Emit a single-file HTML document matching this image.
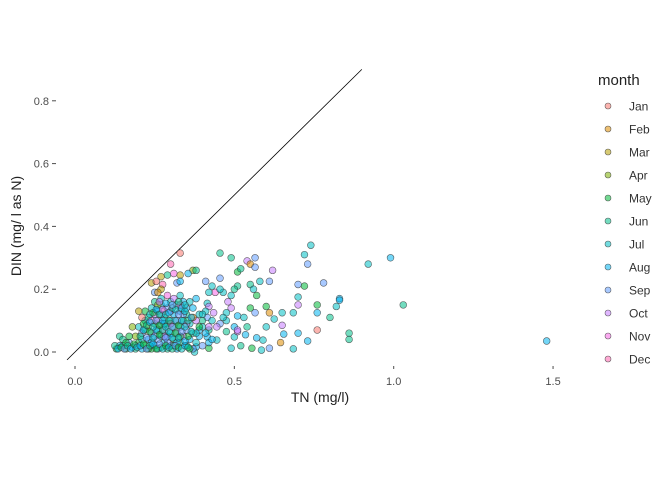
<!DOCTYPE html>
<html><head><meta charset="utf-8"><style>
body{margin:0;background:#fff;}
svg{display:block;font-family:"Liberation Sans",sans-serif;}
</style></head><body>
<svg id="chart" width="672" height="480">
<g id="axes"></g><g id="marks"></g><g id="legend"></g>
</svg>
<script>
const months=["Jan","Feb","Mar","Apr","May","Jun","Jul","Aug","Sep","Oct","Nov","Dec"];
const colors=["#F8766D","#DE8C00","#B79F00","#7CAE00","#00BA38","#00C08B","#00BFC4","#00B4F0","#619CFF","#C77CFF","#F564E3","#FF64B0"];
const xTicks=[0,0.5,1.0,1.5];
const xTickLabels=["0.0","0.5","1.0","1.5"];
const yTicks=[0,0.2,0.4,0.6,0.8];
const yTickLabels=["0.0","0.2","0.4","0.6","0.8"];
const refLine=[-0.025,0.9];
const obs=[
[1.48,0.035,7],[0.99,0.30,7],[0.92,0.28,6],[1.03,0.15,5],
[0.74,0.34,6],[0.72,0.31,6],[0.73,0.28,8],[0.455,0.315,5],[0.49,0.30,5],[0.565,0.30,8],[0.54,0.29,9],[0.55,0.28,1],[0.565,0.27,8],[0.51,0.255,4],[0.52,0.265,5],[0.62,0.26,9],
[0.33,0.315,0],[0.30,0.28,11],[0.37,0.26,3],[0.38,0.26,5],[0.355,0.25,7],[0.31,0.25,10],[0.33,0.245,2],[0.29,0.245,5],[0.27,0.24,2],[0.24,0.22,2],[0.255,0.225,0],[0.275,0.215,11],[0.27,0.20,2],[0.32,0.22,8],[0.33,0.225,7],[0.25,0.19,8],
[0.455,0.235,8],[0.41,0.225,8],[0.43,0.21,6],[0.51,0.21,5],[0.55,0.215,5],[0.58,0.225,6],[0.61,0.225,8],[0.56,0.20,6],[0.57,0.18,4],[0.70,0.215,8],[0.72,0.21,4],[0.78,0.22,8],[0.70,0.175,6],[0.76,0.15,4],[0.83,0.17,7],[0.83,0.165,7],[0.82,0.145,6],[0.70,0.15,9],[0.685,0.125,6],[0.76,0.125,7],[0.80,0.11,5],[0.65,0.125,6],[0.61,0.125,1],[0.60,0.145,4],[0.565,0.125,8],[0.55,0.14,4],[0.53,0.11,6],[0.625,0.105,6],[0.65,0.085,9],[0.60,0.08,6],[0.54,0.08,5],[0.76,0.07,0],[0.70,0.06,7],[0.655,0.057,7],[0.86,0.06,5],[0.86,0.04,5],[0.73,0.035,7],[0.685,0.01,6],[0.645,0.03,1],[0.61,0.012,8],[0.585,0.006,6],[0.59,0.038,6],[0.57,0.045,7],[0.555,0.012,4],[0.52,0.02,5],[0.49,0.012,6],[0.50,0.048,6],[0.475,0.065,5],[0.51,0.065,9],[0.535,0.055,7],[0.445,0.038,6],[0.42,0.012,4],[0.38,0.016,7],[0.375,0.0,6],[0.455,0.09,8],[0.475,0.10,6],[0.50,0.08,7],[0.475,0.125,6],[0.465,0.11,6],[0.49,0.14,9],[0.51,0.115,7],[0.48,0.16,9],[0.49,0.18,6],[0.465,0.19,6],[0.44,0.19,10],[0.455,0.20,6],[0.50,0.20,5],[0.42,0.19,6],[0.415,0.155,6],[0.42,0.145,9],[0.435,0.125,9],[0.415,0.11,8],[0.445,0.08,9],[0.42,0.07,5],[0.40,0.10,5],[0.39,0.07,7],[0.415,0.048,7],[0.51,0.07,9],
[0.13,0.01,4],[0.14,0.05,5],[0.15,0.02,7],[0.16,0.01,4],[0.17,0.03,8],[0.18,0.015,7],[0.19,0.05,3],[0.19,0.01,5],[0.20,0.03,4],[0.20,0.08,6],[0.21,0.01,7],[0.21,0.06,8],[0.22,0.02,5],[0.22,0.10,6],[0.22,0.13,4],[0.23,0.04,7],[0.23,0.08,2],[0.23,0.11,5],[0.24,0.01,4],[0.24,0.06,8],[0.24,0.14,6],[0.25,0.02,7],[0.25,0.09,4],[0.25,0.12,9],[0.25,0.16,5],[0.26,0.04,8],[0.26,0.07,5],[0.26,0.10,11],[0.26,0.13,7],[0.27,0.015,4],[0.27,0.05,6],[0.27,0.09,8],[0.27,0.15,6],[0.28,0.03,7],[0.28,0.07,9],[0.28,0.11,5],[0.28,0.13,0],[0.29,0.01,5],[0.29,0.05,7],[0.29,0.09,4],[0.29,0.14,8],[0.30,0.02,8],[0.30,0.06,6],[0.30,0.10,7],[0.30,0.16,6],[0.31,0.04,4],[0.31,0.08,5],[0.31,0.12,7],[0.32,0.01,7],[0.32,0.06,8],[0.32,0.10,9],[0.32,0.15,6],[0.33,0.03,5],[0.33,0.08,7],[0.33,0.13,6],[0.34,0.05,9],[0.34,0.10,4],[0.34,0.16,7],[0.35,0.02,6],[0.35,0.07,8],[0.35,0.12,5],[0.36,0.04,7],[0.36,0.09,6],[0.37,0.01,8],[0.37,0.06,5],[0.37,0.14,7],[0.38,0.03,6],[0.38,0.10,9],[0.39,0.05,7],[0.39,0.12,6],[0.40,0.02,8],[0.40,0.08,6],[0.41,0.06,7],[0.41,0.13,6],[0.42,0.03,7],[0.43,0.10,6],[0.36,0.16,6],[0.38,0.17,7],[0.31,0.17,9],[0.33,0.18,6],[0.29,0.18,10],[0.26,0.19,1],[0.27,0.17,6],[0.20,0.13,2],[0.18,0.08,3],[0.17,0.05,4],[0.15,0.04,5],[0.21,0.11,0],[0.24,0.10,10],[0.28,0.05,9],[0.30,0.13,9],[0.34,0.12,8],[0.32,0.03,7],[0.26,0.01,7],[0.23,0.01,4],[0.19,0.02,8],[0.35,0.14,7],[0.39,0.08,4],[0.37,0.11,1],[0.30,0.09,11],[0.27,0.12,8],[0.25,0.05,8],[0.22,0.07,4],[0.28,0.09,6],[0.33,0.05,4],[0.31,0.02,5],[0.36,0.01,4],[0.29,0.03,8],[0.24,0.03,7],[0.21,0.04,6],[0.16,0.03,4],[0.14,0.02,7],[0.26,0.15,3],[0.33,0.15,10],[0.35,0.09,9],[0.38,0.06,6],[0.40,0.12,6],[0.42,0.08,9],[0.43,0.04,7],
[0.125,0.02,5],[0.135,0.01,7],[0.145,0.015,4],[0.155,0.01,8],[0.165,0.02,5],[0.175,0.01,7],[0.185,0.025,4],[0.195,0.015,6],[0.205,0.02,7],[0.215,0.025,4],[0.225,0.01,8],[0.235,0.02,5],[0.245,0.025,7],[0.255,0.01,4],[0.265,0.025,8],[0.275,0.01,6],[0.285,0.02,4],[0.295,0.015,7],[0.305,0.01,5],[0.315,0.02,8],[0.325,0.015,4],[0.335,0.01,6],[0.345,0.02,7],[0.355,0.015,5],
[0.205,0.05,5],[0.215,0.07,7],[0.225,0.045,8],[0.235,0.065,4],[0.245,0.045,6],[0.255,0.07,7],[0.265,0.055,4],[0.275,0.07,5],[0.285,0.045,8],[0.295,0.065,6],[0.305,0.045,7],[0.315,0.06,4],[0.325,0.045,6],[0.335,0.065,8],[0.345,0.035,7],[0.355,0.05,4],[0.365,0.065,6],
[0.215,0.09,4],[0.225,0.085,5],[0.235,0.095,7],[0.245,0.08,6],[0.255,0.1,8],[0.265,0.085,4],[0.275,0.1,7],[0.285,0.08,6],[0.295,0.1,5],[0.305,0.08,8],[0.315,0.1,6],[0.325,0.085,4],[0.335,0.1,7],[0.345,0.08,6],[0.355,0.1,5],[0.365,0.11,7],
[0.235,0.12,6],[0.245,0.125,4],[0.255,0.135,7],[0.265,0.12,5],[0.275,0.135,9],[0.285,0.12,6],[0.295,0.125,7],[0.305,0.14,5],[0.315,0.135,6],[0.325,0.12,8],[0.335,0.14,7],[0.345,0.13,6],[0.285,0.155,7],[0.305,0.15,8],[0.325,0.16,5],[0.265,0.16,9],[0.345,0.15,6]
];
const NS="http://www.w3.org/2000/svg";
const X=v=>75+v*318.7;
const Y=v=>352-v*314;
function mk(tag,attrs,parent,text){const e=document.createElementNS(NS,tag);for(const k in attrs)e.setAttribute(k,attrs[k]);if(text!==undefined)e.textContent=text;parent.appendChild(e);return e;}
const axes=document.getElementById("axes"),marks=document.getElementById("marks"),legend=document.getElementById("legend");
xTicks.forEach((t,i)=>{
  const tk=mk("line",{x1:X(t),x2:X(t),y1:366,y2:369,stroke:"#4d4d4d","stroke-width":1},axes);
  
  
  const lb=mk("text",{x:X(t),y:385,"text-anchor":"middle","font-size":11,fill:"#4d4d4d"},axes,xTickLabels[i]);
  
  
});
yTicks.forEach((t,i)=>{
  const tk=mk("line",{x1:52,x2:56,y1:Y(t),y2:Y(t),stroke:"#4d4d4d","stroke-width":1},axes);
  
  
  const lb=mk("text",{x:49,y:Y(t)+4,"text-anchor":"end","font-size":11,fill:"#4d4d4d"},axes,yTickLabels[i]);
  
  
});
const xt=mk("text",{x:320,y:402,"text-anchor":"middle","font-size":14,fill:"#222"},axes,"TN (mg/l)");


const yt=mk("text",{x:0,y:0,transform:"translate(21,226) rotate(-90)","text-anchor":"middle","font-size":14,fill:"#222"},axes,"DIN (mg/ l as N)");


const ln=mk("line",{x1:X(refLine[0]),y1:Y(refLine[0]),x2:X(refLine[1]),y2:Y(refLine[1]),stroke:"#000","stroke-width":0.8},marks);


obs.forEach(o=>{
  const c=mk("circle",{cx:X(o[0]),cy:Y(o[1]),r:3.4,fill:colors[o[2]],"fill-opacity":0.55,stroke:"#333","stroke-opacity":0.75,"stroke-width":0.6},marks);
  
  
});
const lt=mk("text",{x:598,y:85,"font-size":15,fill:"#222"},legend,"month");


months.forEach((m,i)=>{
  const y=106+i*23;
  const g=mk("g",{},legend);
  
  
  mk("circle",{cx:608,cy:y,r:3,fill:colors[i],"fill-opacity":0.55,stroke:"#333","stroke-opacity":0.75,"stroke-width":0.6},g);
  mk("text",{x:629,y:y+4.5,"font-size":12,fill:"#333"},g,m);
});
</script>
</body></html>
